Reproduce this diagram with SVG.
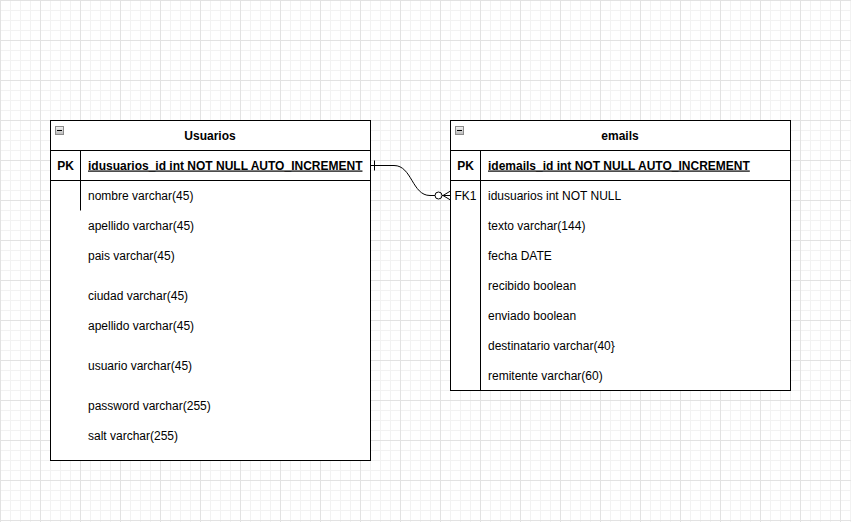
<svg xmlns="http://www.w3.org/2000/svg" width="851" height="522" viewBox="0 0 851 522">
<defs>
<pattern id="minor" width="10" height="10" patternUnits="userSpaceOnUse">
<path d="M0.5 0V10M0 0.5H10" fill="none" stroke="#f2f2f2" stroke-width="1"/>
</pattern>
<pattern id="major" width="40" height="40" patternUnits="userSpaceOnUse">
<rect width="40" height="40" fill="url(#minor)"/>
<path d="M0.5 0V40M0 0.5H40" fill="none" stroke="#e2e2e2" stroke-width="1"/>
</pattern>
<linearGradient id="btn" x1="0" y1="0" x2="0" y2="1">
<stop offset="0" stop-color="#f4f4f4"/>
<stop offset="1" stop-color="#b8b8b8"/>
</linearGradient>
</defs>
<style>
.box{fill:#ffffff;stroke:#000000;stroke-width:1}
.ln{stroke:#000000;stroke-width:1;fill:none}
text{font-family:"Liberation Sans",Arial,Helvetica,sans-serif;font-size:12px;fill:#000000}
.title{font-weight:bold;text-anchor:middle}
.pk{font-weight:bold;text-anchor:middle}
.pkf{font-weight:bold;text-decoration:underline}
.fk{text-anchor:middle}
.btnbox{fill:url(#btn);stroke:#8a8a8a;stroke-width:1}
</style>
<rect x="0" y="0" width="851" height="522" fill="#ffffff"/>
<rect x="0" y="0" width="851" height="522" fill="url(#major)"/>

<g id="usuarios">
<rect class="box" x="50.5" y="120.5" width="320" height="340"/>
<line class="ln" x1="50.5" y1="150.5" x2="370.5" y2="150.5"/>
<line class="ln" x1="50.5" y1="180.5" x2="370.5" y2="180.5"/>
<line class="ln" x1="80.5" y1="150.5" x2="80.5" y2="210.5"/>
<rect class="btnbox" x="55.5" y="126.5" width="8" height="8"/>
<line class="ln" x1="57" y1="130.5" x2="62" y2="130.5"/>
<text class="title" x="210" y="139.5">Usuarios</text>
<text class="pk" x="65.5" y="169.5">PK</text>
<text class="pkf" x="88" y="169.5">idusuarios_id int NOT NULL AUTO_INCREMENT</text>
<text x="88" y="199.5">nombre varchar(45)</text>
<text x="88" y="229.5">apellido varchar(45)</text>
<text x="88" y="259.5">pais varchar(45)</text>
<text x="88" y="299.5">ciudad varchar(45)</text>
<text x="88" y="329.5">apellido varchar(45)</text>
<text x="88" y="369.5">usuario varchar(45)</text>
<text x="88" y="409.5">password varchar(255)</text>
<text x="88" y="439.5">salt varchar(255)</text>
</g>

<g id="emails">
<rect class="box" x="450.5" y="120.5" width="340" height="270"/>
<line class="ln" x1="450.5" y1="150.5" x2="790.5" y2="150.5"/>
<line class="ln" x1="450.5" y1="180.5" x2="790.5" y2="180.5"/>
<line class="ln" x1="480.5" y1="150.5" x2="480.5" y2="390.5"/>
<rect class="btnbox" x="455.5" y="126.5" width="8" height="8"/>
<line class="ln" x1="457" y1="130.5" x2="462" y2="130.5"/>
<text class="title" x="620" y="139.5">emails</text>
<text class="pk" x="465.5" y="169.5">PK</text>
<text class="pkf" x="488" y="169.5">idemails_id int NOT NULL AUTO_INCREMENT</text>
<text class="fk" x="465.5" y="199.5">FK1</text>
<text x="488" y="199.5">idusuarios int NOT NULL</text>
<text x="488" y="229.5">texto varchar(144)</text>
<text x="488" y="259.5">fecha DATE</text>
<text x="488" y="289.5">recibido boolean</text>
<text x="488" y="319.5">enviado boolean</text>
<text x="488" y="349.5">destinatario varchar(40}</text>
<text x="488" y="379.5">remitente varchar(60)</text>
</g>

<g id="connectors">
<path class="ln" d="M370.5 165.5H394C412 165.5 412 195.5 430 195.5H435"/>
<line class="ln" x1="374.5" y1="160.5" x2="374.5" y2="170.5"/>
<circle class="ln" cx="438.5" cy="195.5" r="3.5" fill="#ffffff"/>
<path class="ln" d="M442 195.5H450.5M443 195.5L450.5 191M443 195.5L450.5 200"/>
</g>
</svg>
